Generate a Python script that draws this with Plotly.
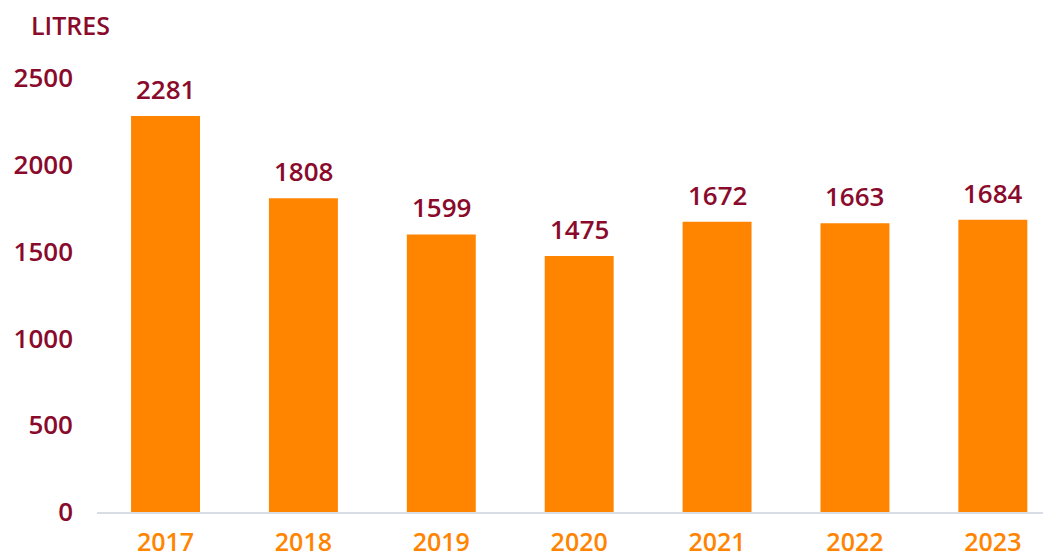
import plotly.graph_objects as go

years = ["2017", "2018", "2019", "2020", "2021", "2022", "2023"]
litres = [2281, 1808, 1599, 1475, 1672, 1663, 1684]
y_ticks = [0, 500, 1000, 1500, 2000, 2500]

ORANGE = "#FF8400"
MAROON = "#8A0A2C"
FONT = "Open Sans"
W = 600

fig = go.Figure()
fig.add_trace(go.Bar(
    x=years, y=litres, width=0.5,
    marker=dict(color=ORANGE, line=dict(width=0)),
    hoverinfo="skip",
))

for i, v in enumerate(litres):
    fig.add_annotation(x=i, y=v, text=str(v), showarrow=False,
                       yanchor="middle", yshift=27,
                       font=dict(family=FONT, size=26, color=MAROON, weight=W))

fig.add_annotation(xref="paper", yref="paper", x=-0.0715, y=1.0587,
                   xanchor="left", yanchor="middle", text="LITRES", showarrow=False,
                   font=dict(family=FONT, size=25, color=MAROON, weight=W))

# page body has an 8px margin, so the figure is sized to fill the rest of the window
fig.update_layout(
    width=1043, height=547,
    margin=dict(l=89, r=3, t=44, b=43, autoexpand=False),
    paper_bgcolor="white", plot_bgcolor="white",
    showlegend=False,
    bargap=0.5,
)
fig.update_xaxes(
    type="category", range=[-0.497, 6.40], automargin=False,
    showgrid=False, showline=True, linecolor="#D9DEE6", linewidth=2,
    ticks="", ticklabelstandoff=7,
    tickfont=dict(family=FONT, size=25, color=ORANGE, weight=W),
)
fig.update_yaxes(
    range=[0, 2650], tickvals=y_ticks, automargin=False,
    showgrid=False, zeroline=False, showline=False,
    ticks="", ticklabelstandoff=23,
    tickfont=dict(family=FONT, size=26, color=MAROON, weight=W),
)

fig.write_html("out.html")
